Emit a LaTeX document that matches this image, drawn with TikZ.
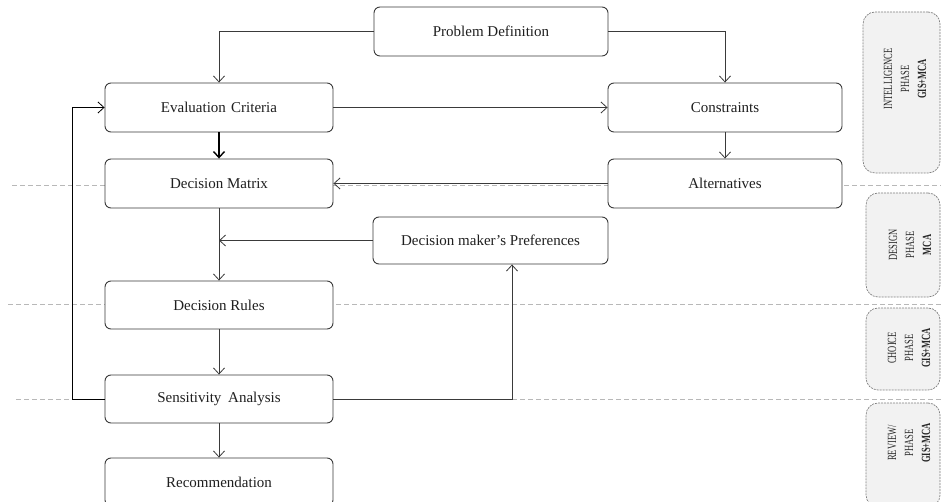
\documentclass[tikz,border=0pt]{standalone}
\usepackage{fontspec}
\setmainfont{Liberation Serif}
\usepackage{graphicx}
\usetikzlibrary{arrows.meta,calc}
\definecolor{boxline}{HTML}{3A3A3A}
\newcommand{\phs}[1]{\scalebox{0.68}[1]{#1}}
\begin{document}
\begin{tikzpicture}[x=1pt,y=-1pt,
  box/.style={draw=boxline, line width=0.9pt, rounded corners=6pt, fill=white,
    minimum width=228pt, minimum height=49pt, inner sep=0pt,
    font=\fontsize{15}{18}\selectfont, text=black!88},
  conn/.style={draw=boxline, line width=0.8pt, -{Straight Barb[length=6pt,width=11pt]}},
  sep/.style={draw=black!28, line width=0.9pt, dash pattern=on 5pt off 3pt},
  phasebox/.style={draw=black!50, fill=black!5, line width=0.7pt,
    dash pattern=on 2pt off 1pt, rounded corners=12pt, inner sep=0pt},
  phasetext/.style={rotate=90, align=center, inner sep=0pt,
    font=\fontsize{12.5}{17}\selectfont, text=black!85}
]
\useasboundingbox (0,0) rectangle (941,502);

% separators
\draw[sep] (12,185) -- (941,185);
\draw[sep] (8,304) -- (941,304);
\draw[sep] (16,399) -- (941,399);

% phase boxes
\node[phasebox, minimum width=77pt, minimum height=161pt] (pb1) at (901.5,92.5) {};
\node[phasebox, minimum width=74pt, minimum height=104pt] (pb2) at (903,245) {};
\node[phasebox, minimum width=74pt, minimum height=82pt] (pb3) at (903,349) {};
\node[phasebox, minimum width=74pt, minimum height=104pt] (pb4) at (903,455) {};

\node[phasetext] (pt1) at (905,79) {\phs{INTELLIGENCE}\\\phs{PHASE}\\\phs{\textbf{GIS+MCA}}};
\node[phasetext] (pt2) at (910,245) {\phs{DESIGN}\\\phs{PHASE}\\\phs{\textbf{MCA}}};
\node[phasetext] (pt3) at (909,348) {\phs{CHOICE}\\\phs{PHASE}\\\phs{\textbf{GIS+MCA}}};
\node[phasetext] (pt4) at (909,443) {\phs{REVIEW/}\\\phs{PHASE}\\\phs{\textbf{GIS+MCA}}};

% main boxes
\node[box, minimum width=234pt] (pd) at (491,31.5) {Problem Definition};
\node[box] (ec) at (219,107.5) {Evaluation\hspace{1.5pt} Criteria};
\node[box, minimum width=234pt] (con) at (725,107.5) {Constraints};
\node[box] (dm) at (219,183.5) {Decision Matrix};
\node[box, minimum width=234pt] (alt) at (725,183.5) {Alternatives};
\node[box, minimum width=235pt, minimum height=47pt] (pref) at (490.5,240.5) {Decision maker's Preferences};
\node[box, minimum height=48pt] (dr) at (219,305) {Decision Rules};
\node[box, minimum height=48pt] (sa) at (219,399) {Sensitivity\hspace{3pt} Analysis};
\node[box, minimum height=48pt] (rec) at (219,482) {Recommendation};

% connectors
\draw[conn] (pd.west) -| (ec.north);
\draw[conn] (pd.east) -| (con.north);
\draw[conn] (ec.east) -- (con.west);
\draw[conn, draw=black, line width=1.4pt] (ec.south) -- (dm.north);
\draw[conn] (con.south) -- (alt.north);
\draw[conn] (alt.west) -- (dm.east);
\draw[conn] (dm.south) -- (dr.north);
\draw[conn] (pref.west) -- (pref.west -| dm.south);
\draw[conn] (dr.south) -- (sa.north);
\draw[conn] (sa.south) -- (rec.north);
\draw[conn] (sa.east) -| ([xshift=21.5pt]pref.south);
\coordinate (fb) at (72,399);
\draw[conn, draw=black] (sa.west) -- (fb) |- (ec.west);
\end{tikzpicture}
\end{document}
